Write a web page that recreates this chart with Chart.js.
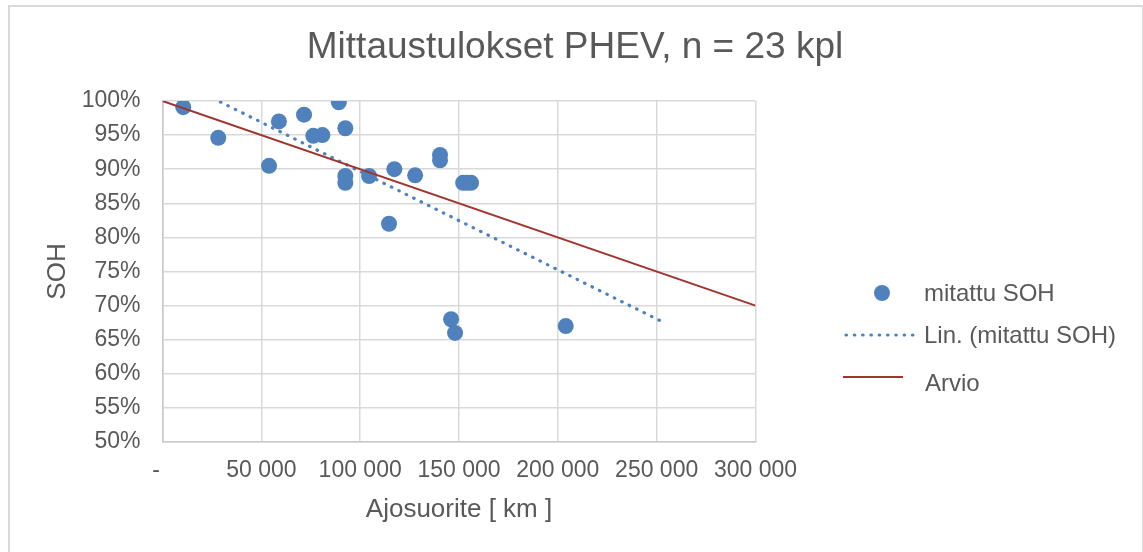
<!DOCTYPE html>
<html>
<head>
<meta charset="utf-8">
<script src="https://cdn.jsdelivr.net/npm/chart.js@4.4.1/dist/chart.umd.min.js"></script>
<style>
body { margin: 0; background: #fff; overflow: hidden; }
#frame { position: absolute; left: 8px; top: 5px; width: 1132px; height: 600px; border: 2px solid #d9d9d9; border-bottom: none; }
#wrap { position: absolute; left: 0; top: 0; width: 1143px; height: 552px; }
</style>
</head>
<body>
<div id="frame"></div>
<div id="wrap"><canvas id="sohChart" width="1143" height="552"></canvas></div>
<script>
// mitatut pisteet: ajosuorite (km) ja SOH (%)
var ajoKm = [10500, 28200, 53900, 58900, 71600, 76300, 80900, 89200, 92500, 92500, 92500, 104500,
             114600, 117300, 127800, 140400, 140400, 146000, 148000, 152100, 154100, 156100, 204000];
var sohPros = [99.1, 94.6, 90.5, 97.0, 98.0, 94.9, 95.0, 99.8, 96.0, 89.0, 88.0, 89.0,
               82.0, 90.0, 89.1, 92.1, 91.3, 68.0, 66.0, 88.0, 88.0, 88.0, 67.0];

// arvio-suora
var arvioKm = [0, 300000];
var arvioSoh = [100, 70];

// akselit
var xTicks = [0, 50000, 100000, 150000, 200000, 250000, 300000];
var yTicks = [50, 55, 60, 65, 70, 75, 80, 85, 90, 95, 100];

var ennusteEteen = 50000; // trendiviivan jatko eteenpäin
var otsikko = 'Mittaustulokset PHEV, n = 23 kpl';

var fontti = '"Liberation Sans", Arial, sans-serif';
var harmaa = '#595959';
var sininen = '#4F81BD';
var punainen = '#A0352F';

// lineaarinen sovitus (pienimmät neliöt)
function linSovitus(xs, ys) {
    var n = xs.length, sx = 0, sy = 0;
    for (let i = 0; i < n; i++) { sx += xs[i]; sy += ys[i]; }
    var mx = sx / n, my = sy / n, sxy = 0, sxx = 0;
    for (let i = 0; i < n; i++) {
        sxy += (xs[i] - mx) * (ys[i] - my);
        sxx += (xs[i] - mx) * (xs[i] - mx);
    }
    var k = sxy / sxx;
    return { k: k, b: my - k * mx };
}

var pisteet = [];
for (let i = 0; i < ajoKm.length; i++) {
    pisteet.push({ x: ajoKm[i], y: sohPros[i] });
}

var sovitus = linSovitus(ajoKm, sohPros);
var trendiX = [Math.min.apply(null, ajoKm), Math.max.apply(null, ajoKm) + ennusteEteen];
var trendi = trendiX.map(function (x) { return { x: x, y: sovitus.b + sovitus.k * x }; });

var arvio = [];
for (let i = 0; i < arvioKm.length; i++) {
    arvio.push({ x: arvioKm[i], y: arvioSoh[i] });
}

function tuhannet(v) {
    if (v === 0) return '-  ';
    return String(v).replace(/\B(?=(\d{3})+(?!\d))/g, ' ');
}

// otsikko + Excel-tyylinen selite oikealle
var selite = {
    id: 'selite',
    afterDraw: function (chart) {
        var ctx = chart.ctx;
        ctx.save();
        ctx.textBaseline = 'middle';

        ctx.font = '37px ' + fontti;
        ctx.fillStyle = harmaa;
        ctx.textAlign = 'center';
        ctx.fillText(otsikko, 575, 48);

        ctx.font = '24px ' + fontti;
        ctx.textAlign = 'left';

        // mitattu SOH
        ctx.beginPath();
        ctx.arc(882, 293, 8, 0, Math.PI * 2);
        ctx.fillStyle = sininen;
        ctx.fill();
        ctx.fillStyle = harmaa;
        ctx.fillText('mitattu SOH', 924, 294);

        // Lin. (mitattu SOH)
        ctx.beginPath();
        ctx.strokeStyle = sininen;
        ctx.lineWidth = 3.2;
        ctx.lineCap = 'round';
        ctx.setLineDash([0.5, 7.8]);
        ctx.moveTo(846, 335);
        ctx.lineTo(917, 335);
        ctx.stroke();
        ctx.setLineDash([]);
        ctx.fillText('Lin. (mitattu SOH)', 924, 336);

        // Arvio
        ctx.beginPath();
        ctx.strokeStyle = punainen;
        ctx.lineWidth = 2;
        ctx.lineCap = 'butt';
        ctx.moveTo(843, 377);
        ctx.lineTo(903, 377);
        ctx.stroke();
        ctx.fillText('Arvio', 925, 384);
        ctx.restore();
    }
};

var ctx = document.getElementById('sohChart');
var sohChart = new Chart(ctx, {
    type: 'scatter',
    data: {
        datasets: [{
            label: 'mitattu SOH',
            data: pisteet,
            backgroundColor: sininen,
            borderWidth: 0,
            pointRadius: 8,
            pointHoverRadius: 8,
            order: 2
        }, {
            label: 'Lin. (mitattu SOH)',
            data: trendi,
            showLine: true,
            borderColor: sininen,
            borderWidth: 3.2,
            borderDash: [0.5, 7.8],
            borderCapStyle: 'round',
            pointRadius: 0,
            order: 1
        }, {
            label: 'Arvio',
            data: arvio,
            showLine: true,
            borderColor: punainen,
            borderWidth: 2,
            pointRadius: 0,
            order: 0
        }]
    },
    options: {
        responsive: false,
        animation: false,
        layout: { padding: { left: 0, top: 101, right: 1143 - 755.5, bottom: 0 } },
        plugins: {
            legend: { display: false },
            tooltip: { enabled: false },
            title: { display: false }
        },
        scales: {
            x: {
                type: 'linear',
                min: 0,
                max: 300000,
                afterBuildTicks: function (s) { s.ticks = xTicks.map(function (v) { return { value: v }; }); },
                afterFit: function (s) { s.height = 110; },
                grid: { color: '#D9D9D9', lineWidth: 1.5, drawTicks: false },
                border: { color: '#C9C9C9', width: 1.5 },
                ticks: {
                    color: harmaa,
                    font: { family: fontti, size: 23 },
                    padding: 15,
                    maxRotation: 0,
                    autoSkip: false,
                    callback: function (v) { return tuhannet(v); }
                },
                title: {
                    display: true,
                    text: 'Ajosuorite [ km ]',
                    color: harmaa,
                    font: { family: fontti, size: 26 },
                    padding: { top: 0, bottom: 27 }
                }
            },
            y: {
                min: 50,
                max: 100,
                afterBuildTicks: function (s) { s.ticks = yTicks.map(function (v) { return { value: v }; }); },
                afterFit: function (s) { s.width = 162.5; },
                grid: { color: '#D9D9D9', lineWidth: 1.5, drawTicks: false },
                border: { color: '#C9C9C9', width: 1.5 },
                ticks: {
                    color: harmaa,
                    font: { family: fontti, size: 23 },
                    padding: 22,
                    autoSkip: false,
                    callback: function (v) { return v + '%'; }
                },
                title: {
                    display: true,
                    text: 'SOH',
                    color: harmaa,
                    font: { family: fontti, size: 26 },
                    padding: { top: 42, bottom: 0 }
                }
            }
        }
    },
    plugins: [selite]
});
</script>
</body>
</html>
